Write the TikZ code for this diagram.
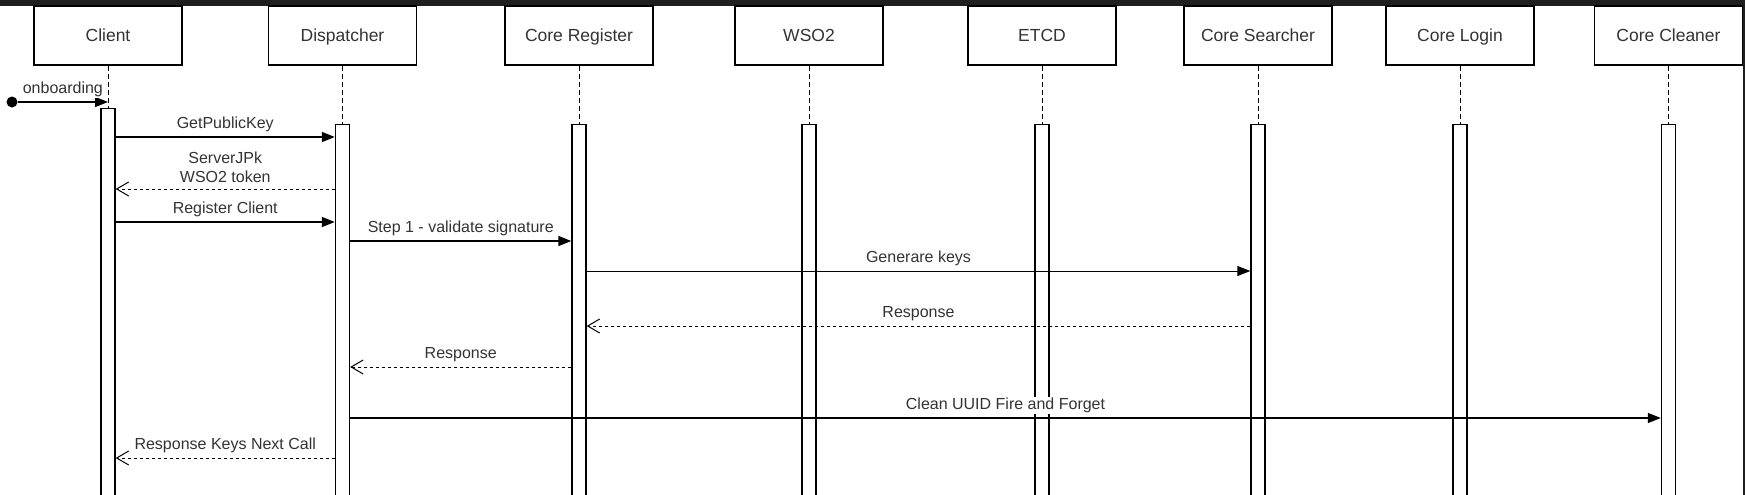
\documentclass[tikz,border=0pt]{standalone}
\usepackage{fontspec}
\setmainfont{Liberation Sans}
\usetikzlibrary{arrows.meta}

\begin{document}
\begin{tikzpicture}
            [x=1pt, y=-1pt, >={Triangle[length=13pt,width=10pt]},
             actor/.style={shape=rectangle, draw=black, line width=1.3pt, fill=white, minimum width=148pt, minimum height=59pt, inner sep=0pt, text height=12.6pt, text depth=0pt, text=black!80, font=\fontsize{17.5}{21}\selectfont},
             bar/.style={shape=rectangle, draw=black, line width=1.4pt, fill=white, minimum width=14pt, minimum height=400pt, inner sep=0pt, anchor=north},
             lifeline/.style={line width=1pt, dash pattern=on 5pt off 3pt},
             msg/.style={->, line width=1.4pt},
             reply/.style={-{Straight Barb[length=12pt,width=14pt,line width=1pt]}, line width=1pt, dash pattern=on 3pt off 3pt},
             lbl/.style={fill=white, inner sep=1pt, yshift=13pt, text height=11.6pt, text depth=3.4pt, text=black!80, font=\fontsize{16}{19}\selectfont}]
            \useasboundingbox (0,0) rectangle (1745,495);
            \fill[white] (0,0) rectangle (1745,495);
            \fill[black!88] (0,0) rectangle (1745,6);
            \fill[black!88] (1743,0) rectangle (1745,495);

            \node[actor] (cl) at (108, 35.5) {Client};
            \node[actor] (di) at (342.5, 35.5) {Dispatcher};
            \node[actor] (reg) at (579, 35.5) {Core Register};
            \node[actor] (wso) at (809, 35.5) {WSO2};
            \node[actor] (etcd) at (1042, 35.5) {ETCD};
            \node[actor] (sea) at (1258, 35.5) {Core Searcher};
            \node[actor] (log) at (1460, 35.5) {Core Login};
            \node[actor] (cln) at (1668.5, 35.5) {Core Cleaner};

            \node[bar] (barCl) at (108, 108) {};
            \node[bar] (barDi) at (342.5, 124) {};
            \node[bar] (barReg) at (579, 124) {};
            \node[bar] (barWso) at (809, 124) {};
            \node[bar] (barEtcd) at (1042, 124) {};
            \node[bar] (barSea) at (1258, 124) {};
            \node[bar] (barLog) at (1460, 124) {};
            \node[bar] (barCln) at (1668.5, 124) {};

            \path [lifeline] (cl) edge (barCl);
            \path [lifeline] (di) edge (barDi);
            \path [lifeline] (reg) edge (barReg);
            \path [lifeline] (wso) edge (barWso);
            \path [lifeline] (etcd) edge (barEtcd);
            \path [lifeline] (sea) edge (barSea);
            \path [lifeline] (log) edge (barLog);
            \path [lifeline] (cln) edge (barCln);

            \coordinate (r0) at (0, 102);
            \coordinate (r1) at (0, 137);
            \coordinate (r2) at (0, 189);
            \coordinate (r3) at (0, 222);
            \coordinate (r4) at (0, 241);
            \coordinate (r5) at (0, 271);
            \coordinate (r6) at (0, 326);
            \coordinate (r7) at (0, 367);
            \coordinate (r8) at (0, 418);
            \coordinate (r9) at (0, 458);

            \node[shape=circle, fill=black, minimum size=11pt, inner sep=0pt] (start) at (12, 102) {};

            \path [msg] (start) edge node[lbl] {onboarding} (barCl.north |- r0);
            \path [msg] (barCl.east |- r1) edge node[lbl] {GetPublicKey} (barDi.west |- r1);
            \path [reply] (barDi.west |- r2) edge node[lbl, yshift=8.5pt, text height=30.6pt, text depth=0pt, align=center] {ServerJPk\\WSO2 token} (barCl.east |- r2);
            \path [msg] (barCl.east |- r3) edge node[lbl] {Register Client} (barDi.west |- r3);
            \path [msg] (barDi.east |- r4) edge node[lbl] {Step 1 - validate signature} (barReg.west |- r4);
            \path [msg, line width=1pt] (barReg.east |- r5) edge node[lbl] {Generare keys} (barSea.west |- r5);
            \path [reply] (barSea.west |- r6) edge node[lbl] {Response} (barReg.east |- r6);
            \path [reply] (barReg.west |- r7) edge node[lbl] {Response} (barDi.east |- r7);
            \path [msg] (barDi.east |- r8) edge node[lbl] {Clean UUID Fire and Forget} (barCln.west |- r8);
            \path [reply] (barDi.west |- r9) edge node[lbl] {Response Keys Next Call} (barCl.east |- r9);
        \end{tikzpicture}
\end{document}
